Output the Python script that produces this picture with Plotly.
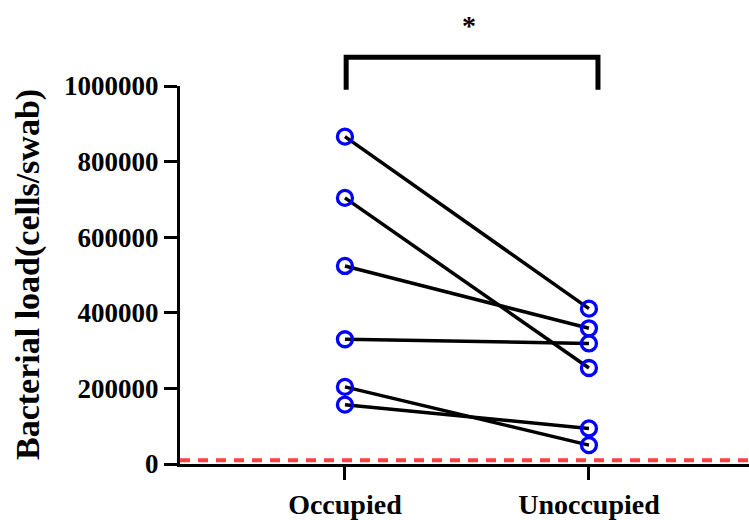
import plotly.graph_objects as go

categories = ["Occupied", "Unoccupied"]
occupied = [866000, 704000, 524000, 330000, 204000, 157000]
unoccupied = [411000, 254000, 359000, 319000, 50000, 94000]
y_ticks = [0, 200000, 400000, 600000, 800000, 1000000]
detection_limit = 10000
sig_label = "*"
y_title = "Bacterial load(cells/swab)"

FONT = "Liberation Serif"
fig = go.Figure()

for a, b in zip(occupied, unoccupied):
    fig.add_trace(go.Scatter(x=[0, 1], y=[a, b], mode="lines",
                             line=dict(color="black", width=3.5),
                             showlegend=False, hoverinfo="skip"))

fig.add_trace(go.Scatter(x=[0] * len(occupied) + [1] * len(unoccupied),
                         y=occupied + unoccupied, mode="markers",
                         marker=dict(symbol="circle-open", size=15, color="#0000FF",
                                     line=dict(width=3.3, color="#0000FF")),
                         showlegend=False, cliponaxis=False))

fig.add_shape(type="line", xref="paper", yref="y", x0=0, x1=1,
              y0=detection_limit, y1=detection_limit,
              line=dict(color="#FF4040", width=4, dash="10px,8px"), layer="below")

# significance bracket (above plot area, in paper coords for y)
fig.add_shape(type="path", xref="x", yref="paper",
              path="M 0.005,0.99 L 0.005,1.076 L 1.037,1.076 L 1.037,0.99",
              line=dict(color="black", width=5))
fig.add_annotation(x=0.51, xref="x", y=1.16, yref="paper", text=sig_label,
                   showarrow=False, font=dict(family=FONT, size=28, color="black"),
                   yanchor="middle")

fig.add_annotation(x=0, xref="paper", xanchor="center", xshift=-152,
                   y=0.5, yref="paper", yanchor="middle", textangle=-90,
                   text=y_title, showarrow=False,
                   font=dict(family=FONT, size=34, color="black", weight="bold"))

fig.update_layout(
    width=749, height=520,
    margin=dict(l=180, r=0, t=86, b=52),
    plot_bgcolor="white", paper_bgcolor="white",
    font=dict(family=FONT, size=27, color="black", weight="bold"),
    xaxis=dict(range=[-0.676, 1.656], tickvals=[0, 1], ticktext=categories,
               showgrid=False, zeroline=False, showline=True, linecolor="black",
               linewidth=3, ticks="outside", ticklen=13, tickwidth=3,
               tickcolor="black", tickfont=dict(family=FONT, size=28, weight="bold")),
    yaxis=dict(range=[0, 1000000], tickvals=y_ticks,
               ticktext=[str(v) for v in y_ticks],
               showgrid=False, zeroline=False, showline=True, linecolor="black",
               linewidth=3, ticks="outside", ticklen=13, tickwidth=3,
               tickcolor="black", tickfont=dict(family=FONT, size=27, weight="bold")),
)

fig.write_html("out.html")
